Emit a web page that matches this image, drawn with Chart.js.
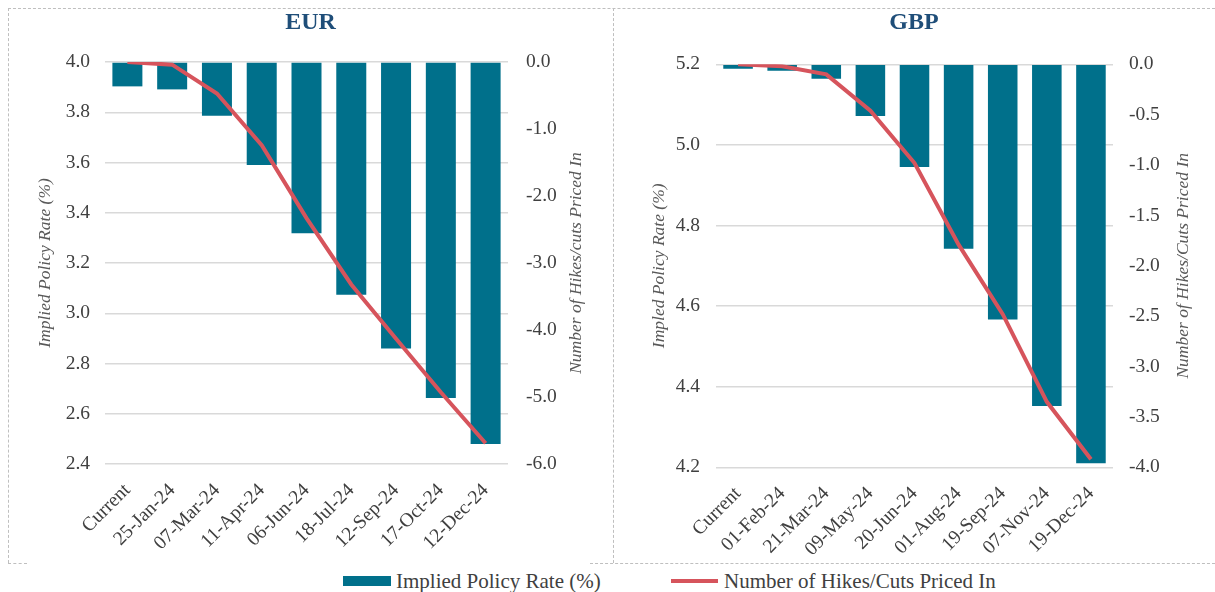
<!DOCTYPE html>
<html>
<head>
<meta charset="utf-8">
<script src="https://cdn.jsdelivr.net/npm/chart.js@4.4.1/dist/chart.umd.min.js"></script>
<style>
  html, body { margin: 0; padding: 0; background: #ffffff; }
  body { width: 1215px; height: 592px; position: relative; overflow: hidden; font-family: 'Liberation Serif', 'Times New Roman', serif; }
  .cv { position: absolute; }
  .hline { position: absolute; height: 0; border-top: 1px dashed #BFBFBF; }
  .vline { position: absolute; width: 0; border-left: 1px dashed #BFBFBF; }
  .legend { position: absolute; top: 569px; height: 24px; display: flex; align-items: center; font-size: 21px; color: #404040; white-space: nowrap; }
  .swatch-bar { display: inline-block; width: 48px; height: 10px; background: #00708B; margin-right: 5px; }
  .swatch-line { display: inline-block; width: 47px; height: 4px; background: #D6545C; margin-right: 6px; }
</style>
</head>
<body>
<!-- panel borders -->
<div class="hline" style="left:8px; top:8px; width:1207px;"></div>
<div class="vline" style="left:8px; top:8px; height:555px;"></div>
<div class="vline" style="left:613px; top:8px; height:555px;"></div>
<div class="hline" style="left:8px; top:563px; width:19px;"></div>
<div class="hline" style="left:590px; top:563px; width:625px;"></div>

<canvas id="eur" class="cv" style="left:8px; top:8px;" width="605" height="555"></canvas>
<canvas id="gbp" class="cv" style="left:613px; top:8px;" width="602" height="555"></canvas>

<div class="legend" style="left:343px;"><span class="swatch-bar"></span><span id="lg1"></span></div>
<div class="legend" style="left:671px;"><span class="swatch-line"></span><span id="lg2"></span></div>

<script>
// ---------- data ----------
const seriesNames = ['Implied Policy Rate (%)', 'Number of Hikes/Cuts Priced In'];

const eurCategories = ['Current','25-Jan-24','07-Mar-24','11-Apr-24','06-Jun-24','18-Jul-24','12-Sep-24','17-Oct-24','12-Dec-24'];
const eurRates = [3.903, 3.891, 3.786, 3.590, 3.318, 3.074, 2.860, 2.663, 2.480];
const eurMoves = [0.00, -0.04, -0.47, -1.24, -2.33, -3.32, -4.13, -4.93, -5.69];
const eurRateAxis = { min: 2.4, max: 4.0, step: 0.2 };
const eurMoveAxis = { min: -6.0, max: 0.0, step: 1.0 };

const gbpCategories = ['Current','01-Feb-24','21-Mar-24','09-May-24','20-Jun-24','01-Aug-24','19-Sep-24','07-Nov-24','19-Dec-24'];
const gbpRates = [5.189, 5.184, 5.164, 5.072, 4.945, 4.742, 4.567, 4.352, 4.210];
const gbpMoves = [0.00, -0.02, -0.10, -0.46, -0.98, -1.79, -2.48, -3.35, -3.92];
const gbpRateAxis = { min: 4.2, max: 5.2, step: 0.2 };
const gbpMoveAxis = { min: -4.0, max: 0.0, step: 0.5 };

// ---------- styles ----------
const BAR_COLOR = '#00708B';
const LINE_COLOR = '#D6545C';
const TITLE_COLOR = '#1F4E79';
const TICK_COLOR = '#404040';
const AXIS_TITLE_COLOR = '#595959';
const FONT = "'Liberation Serif', 'Times New Roman', serif";
const TICK_SIZE = 19.5;
const AXIS_TITLE_SIZE = 17.5;

document.getElementById('lg1').textContent = seriesNames[0];
document.getElementById('lg2').textContent = seriesNames[1];

const rightTitlePlugin = {
  id: 'rightTitle',
  afterDraw(chart, args, opts) {
    const ctx = chart.ctx;
    const ca = chart.chartArea;
    ctx.save();
    ctx.font = 'italic ' + AXIS_TITLE_SIZE + 'px ' + FONT;
    ctx.fillStyle = AXIS_TITLE_COLOR;
    ctx.textAlign = 'center';
    ctx.textBaseline = 'middle';
    ctx.translate(opts.x, (ca.top + ca.bottom) / 2);
    ctx.rotate(-Math.PI / 2);
    ctx.fillText(opts.text, 0, 0);
    ctx.restore();
  }
};

function makeChart(id, cfg) {
  return new Chart(document.getElementById(id), {
    data: {
      labels: cfg.categories,
      datasets: [
        {
          type: 'line',
          label: seriesNames[1],
          data: cfg.moves,
          yAxisID: 'y1',
          borderColor: LINE_COLOR,
          backgroundColor: LINE_COLOR,
          borderWidth: 4,
          pointRadius: 0,
          tension: 0,
          order: 0
        },
        {
          type: 'bar',
          label: seriesNames[0],
          data: cfg.rates,
          yAxisID: 'y',
          base: cfg.rateAxis.max,
          backgroundColor: BAR_COLOR,
          borderWidth: 0,
          categoryPercentage: 1.0,
          barPercentage: 0.67,
          order: 1
        }
      ]
    },
    options: {
      responsive: false,
      animation: false,
      devicePixelRatio: 1,
      layout: { padding: 0 },
      plugins: {
        legend: { display: false },
        tooltip: { enabled: false },
        title: {
          display: true,
          text: cfg.title,
          color: TITLE_COLOR,
          font: { family: FONT, size: 24, weight: 'bold', lineHeight: 1.2 },
          padding: { top: 0, bottom: cfg.titleGap }
        },
        rightTitle: { text: cfg.rightTitle, x: cfg.rightTitleX }
      },
      scales: {
        x: {
          type: 'category',
          grid: { display: false, drawTicks: false },
          border: { display: false },
          ticks: {
            color: TICK_COLOR,
            font: { family: FONT, size: TICK_SIZE },
            autoSkip: false,
            minRotation: 45,
            maxRotation: 45,
            padding: 15
          },
          afterFit(s) { s.height = cfg.xHeight; }
        },
        y: {
          position: 'left',
          min: cfg.rateAxis.min,
          max: cfg.rateAxis.max,
          grid: { color: '#D9D9D9', lineWidth: 1.5, drawTicks: false },
          border: { display: false },
          ticks: {
            stepSize: cfg.rateAxis.step,
            color: TICK_COLOR,
            font: { family: FONT, size: TICK_SIZE },
            padding: cfg.leftPad,
            callback: v => Number(v).toFixed(1)
          },
          title: {
            display: true,
            text: cfg.leftTitle,
            color: AXIS_TITLE_COLOR,
            font: { family: FONT, size: AXIS_TITLE_SIZE, style: 'italic', lineHeight: 1.2 },
            padding: { top: cfg.leftTitleOffset, bottom: 0 }
          },
          afterFit(s) { s.width = cfg.leftWidth; }
        },
        y1: {
          position: 'right',
          min: cfg.moveAxis.min,
          max: cfg.moveAxis.max,
          grid: { display: false, drawTicks: false },
          border: { display: false },
          ticks: {
            stepSize: cfg.moveAxis.step,
            color: TICK_COLOR,
            font: { family: FONT, size: TICK_SIZE },
            padding: cfg.rightPad,
            callback: v => Number(v).toFixed(1)
          },
          afterFit(s) { s.width = cfg.rightWidth; }
        }
      }
    },
    plugins: [rightTitlePlugin]
  });
}

makeChart('eur', {
  title: 'EUR',
  categories: eurCategories,
  rates: eurRates,
  moves: eurMoves,
  rateAxis: eurRateAxis,
  moveAxis: eurMoveAxis,
  leftTitle: 'Implied Policy Rate (%)',
  rightTitle: 'Number of Hikes/cuts Priced In',
  titleGap: 25.2,
  xHeight: 99,
  leftWidth: 97,
  rightWidth: 105,
  leftPad: 15,
  rightPad: 18,
  leftTitleOffset: 26.5,
  rightTitleX: 568
});

makeChart('gbp', {
  title: 'GBP',
  categories: gbpCategories,
  rates: gbpRates,
  moves: gbpMoves,
  rateAxis: gbpRateAxis,
  moveAxis: gbpMoveAxis,
  leftTitle: 'Impled Policy Rate (%)',
  rightTitle: 'Number of Hikes/Cuts Priced In',
  titleGap: 27.5,
  xHeight: 95.7,
  leftWidth: 103,
  rightWidth: 102,
  leftPad: 16,
  rightPad: 16,
  leftTitleOffset: 35.5,
  rightTitleX: 570
});
</script>
</body>
</html>
